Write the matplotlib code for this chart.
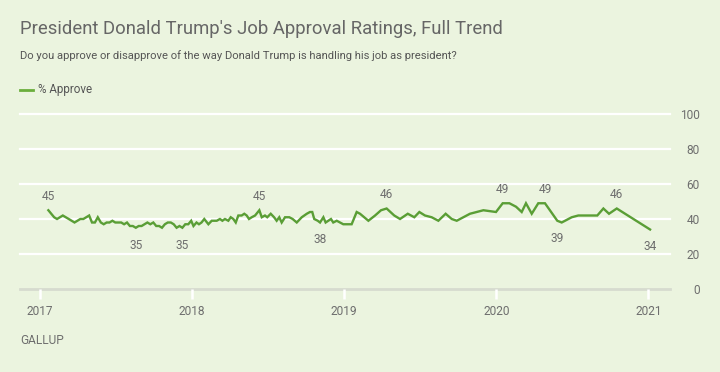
import matplotlib
matplotlib.use("Agg")
import matplotlib.pyplot as plt
from matplotlib.lines import Line2D

# ---- data (x = decimal year of poll, y = % approve) ----
dates_2017 = [2017.055, 2017.074, 2017.093, 2017.112, 2017.131, 2017.150, 2017.170, 2017.189,
              2017.208, 2017.227, 2017.246, 2017.265, 2017.285, 2017.304, 2017.323, 2017.342,
              2017.361, 2017.380, 2017.400, 2017.419, 2017.438, 2017.457, 2017.476, 2017.495,
              2017.515, 2017.534, 2017.553, 2017.572, 2017.591, 2017.610, 2017.630, 2017.649,
              2017.668, 2017.687, 2017.706, 2017.725, 2017.745, 2017.764, 2017.783, 2017.802,
              2017.821, 2017.840, 2017.860, 2017.879, 2017.898, 2017.917, 2017.936, 2017.955,
              2017.975, 2017.994]
approve_2017 = [45, 43, 41, 40, 41, 42, 41, 40, 39, 38, 39, 40, 40, 41, 42, 38,
                38, 41, 38, 37, 38, 38, 39, 38, 38, 38, 37, 38, 36, 36, 35, 36,
                36, 37, 38, 37, 38, 36, 36, 35, 37, 38, 38, 37, 35, 36, 35, 37,
                37, 39]

dates_2018 = [2018.009, 2018.029, 2018.045, 2018.062, 2018.080, 2018.107, 2018.129, 2018.162,
              2018.183, 2018.199, 2018.216, 2018.238, 2018.254, 2018.271, 2018.287, 2018.304,
              2018.326, 2018.343, 2018.359, 2018.374, 2018.392, 2018.414, 2018.442, 2018.458,
              2018.479, 2018.494, 2018.517, 2018.539, 2018.556, 2018.573, 2018.589, 2018.611,
              2018.639, 2018.661, 2018.688, 2018.721, 2018.754, 2018.775, 2018.790, 2018.803,
              2018.826, 2018.841, 2018.863, 2018.878, 2018.896, 2018.913, 2018.928, 2018.951,
              2018.972, 2018.994]
approve_2018 = [36, 38, 37, 38, 40, 37, 39, 39, 40, 39, 40, 39, 41, 40, 38, 42,
                42, 43, 42, 40, 41, 42, 45, 41, 42, 41, 43, 41, 39, 41, 38, 41,
                41, 40, 38, 41, 43, 44, 44, 40, 39, 38, 41, 38, 39, 40, 38, 39,
                38, 37]

dates_2019 = [2019.049, 2019.082, 2019.104, 2019.159, 2019.203, 2019.242, 2019.279, 2019.329,
              2019.367, 2019.418, 2019.461, 2019.494, 2019.531, 2019.575, 2019.619, 2019.667,
              2019.707, 2019.740, 2019.783, 2019.827, 2019.871, 2019.915]
approve_2019 = [37, 44, 43, 39, 42, 45, 46, 42, 40, 43, 41, 44, 42, 41, 39, 43,
                40, 39, 41, 43, 44, 45]

dates_2020 = [2019.998, 2020.042, 2020.086, 2020.130, 2020.167, 2020.195, 2020.233, 2020.276,
              2020.320, 2020.401, 2020.430, 2020.496, 2020.539, 2020.583, 2020.627, 2020.664,
              2020.704, 2020.741, 2020.792, 2021.011]
approve_2020 = [44, 49, 49, 47, 44, 49, 43, 49, 49, 39, 38, 41, 42, 42, 42, 42,
                46, 43, 46, 34]

# labelled points: (date, position)
labels = [(2017.055, "above"), (2017.630, "below"), (2017.936, "below"),
          (2018.442, "above"), (2018.841, "below"), (2019.279, "above"),
          (2020.042, "above"), (2020.320, "above"), (2020.401, "below"),
          (2020.792, "above"), (2021.011, "below")]

year_ticks = [2017, 2018, 2019, 2020, 2021]
y_ticks = [0, 20, 40, 60, 80, 100]

title = "President Donald Trump's Job Approval Ratings, Full Trend"
subtitle = "Do you approve or disapprove of the way Donald Trump is handling his job as president?"
legend_label = "% Approve"
source = "GALLUP"

# ---- style ----
BG = "#EBF4DF"
GREEN = "#5A9E36"
TXT = "#6E6E6E"
FONT = "Roboto"

dates = dates_2017 + dates_2018 + dates_2019 + dates_2020
approve = approve_2017 + approve_2018 + approve_2019 + approve_2020

W, H = 720, 372
fig = plt.figure(figsize=(W / 100, H / 100), dpi=100, facecolor=BG)
ax = fig.add_axes([20 / W, (H - 289) / H, 650 / W, 175 / H], facecolor=BG)

x0 = 2017 - 20 / 152.1
x1 = 2017 + 630 / 152.1
ax.set_xlim(x0, x1)
ax.set_ylim(0, 100)

for s in ax.spines.values():
    s.set_visible(False)

for yv in y_ticks[1:]:
    ax.axhline(yv, color="white", lw=1.6, zorder=1, clip_on=False)
ax.axhline(0, color="#D6DBCF", lw=2.0, zorder=1, clip_on=False)

ax.plot(dates, approve, color=GREEN, lw=1.7, zorder=3, solid_joinstyle="miter")

for d, pos in labels:
    i = min(range(len(dates)), key=lambda j: abs(dates[j] - d))
    off = 10 if pos == "above" else -12.5
    ax.annotate(str(approve[i]), (dates[i], approve[i]), xytext=(0, off),
                textcoords="offset points", ha="center", va="center",
                fontsize=8.6, color=TXT, family=FONT, zorder=4)

ax.set_xticks(year_ticks)
ax.set_xticklabels([str(y) for y in year_ticks], family=FONT, fontsize=8.6, color=TXT)
ax.tick_params(axis="x", length=7, width=1.8, color="white", pad=4.5)

ax.yaxis.tick_right()
ax.set_yticks(y_ticks)
ax.set_yticklabels([str(v) for v in y_ticks], family=FONT, fontsize=8.6, color=TXT)
for lab in ax.get_yticklabels():
    lab.set_horizontalalignment("right")
ax.tick_params(axis="y", length=0, pad=21.5)

fig.text(20 / W, 1 - 34 / H, title, family=FONT, fontsize=13.3, color="#666666", va="baseline")
fig.text(20 / W, 1 - 59 / H, subtitle, family=FONT, fontsize=8.1, color="#555555", va="baseline")
fig.add_artist(Line2D([20 / W, 33 / W], [1 - 90 / H, 1 - 90 / H], color="#6AAE3C", lw=2.0))
fig.text(38 / W, 1 - 90 / H, legend_label, family=FONT, fontsize=8.4, color="#555555", va="center")
fig.text(20 / W, 1 - 340 / H, source, family=FONT, fontsize=8.6, color=TXT, va="center")

fig.savefig("out.png", dpi=100, facecolor=BG)
